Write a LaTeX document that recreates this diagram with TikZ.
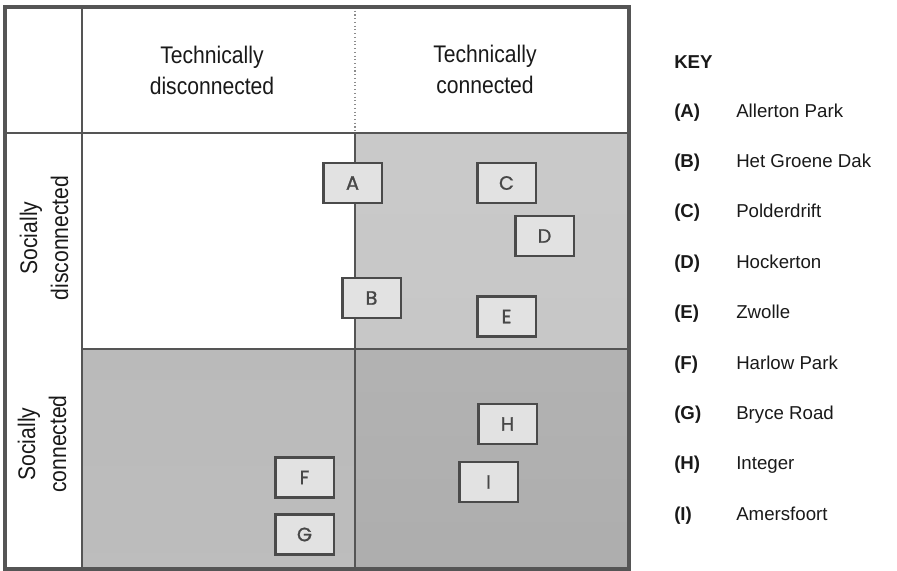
\documentclass[tikz,border=0pt]{standalone}
\usepackage{fontspec}
\setmainfont{Liberation Sans}
\newfontfamily\headfont[FakeStretch=0.88]{Liberation Sans}
\newfontfamily\boxfont[FakeBold=1.2]{Poppins}
\usepackage{tikz}
\usepackage{xcolor}
\definecolor{gridline}{HTML}{555555}
\definecolor{siteedge}{HTML}{4A4A4A}
\definecolor{sitefill}{HTML}{E2E2E2}
\tikzset{
  head/.style={anchor=center, inner sep=0.75pt, align=center, text=black!90,
    font=\headfont\fontsize{18}{23.25}\selectfont},
  site/.style={draw=siteedge, line width=2pt, fill=sitefill, minimum width=44pt,
    minimum height=30pt, inner sep=0pt, text=black!72,
    font=\boxfont\fontsize{14.5}{16}\selectfont},
  keytxt/.style={anchor=base west, inner sep=0.75pt, text=black!90,
    font=\fontsize{14}{16}\selectfont},
  keytag/.style={keytxt, font=\bfseries\fontsize{14}{16}\selectfont}
}

\begin{document}
\begin{tikzpicture}[x=0.75pt,y=0.75pt,yscale=-1,xscale=1]
\useasboundingbox (0,0) rectangle (897,571);

%Shape: Rectangle [quadrant top right]
\fill[top color=black!21, middle color=black!10, bottom color=black!22] (355,133) rectangle (629,349);
%Shape: Rectangle [quadrant bottom left]
\fill[top color=black!27, middle color=black!18, bottom color=black!26] (82,349) rectangle (355,569);
%Shape: Rectangle [quadrant bottom right]
\fill[top color=black!30, middle color=black!25, bottom color=black!32] (355,349) rectangle (629,569);

%Straight Lines [header divider]
\draw [color=black!45, dotted, line width=0.8pt]  (355,7) -- (355,133) ;
%Straight Lines [header bottom]
\draw [color=gridline, line width=1.5pt]  (5,133) -- (629,133) ;
%Straight Lines [label column]
\draw [color=gridline, line width=1.5pt]  (82,7) -- (82,569) ;
%Straight Lines [middle row]
\draw [color=gridline, line width=1.5pt]  (82,349) -- (629,349) ;
%Straight Lines [middle column]
\draw [color=gridline, line width=1.5pt]  (355,133) -- (355,569) ;
%Shape: Rectangle [frame]
\draw [color=gridline, line width=3.2pt]  (5,7) rectangle (629,569) ;

% Text Node
\draw (212,70) node [head] (hdis) {Technically\\disconnected};
% Text Node
\draw (485,69) node [head] (hcon) {Technically\\connected};
% Text Node
\draw (44,238) node [head, rotate=90] (sdis) {Socially\\disconnected};
% Text Node
\draw (42,444) node [head, rotate=90] (scon) {Socially\\connected};

% Site boxes
\draw (352.5,183) node [site] (A) {A};
\draw (371.5,298) node [site] (B) {B};
\draw (506.5,183) node [site] (C) {C};
\draw (544.5,236) node [site] (D) {D};
\draw (506.5,316.5) node [site] (E) {E};
\draw (304.5,477.5) node [site] (F) {F};
\draw (304.5,534.5) node [site] (G) {G};
\draw (507.5,424) node [site] (H) {H};
\draw (488.5,482) node [site] (I) {I};

% Key
\draw (673,68) node [keytag] (key) {KEY};
\foreach \l/\name [count=\k from 0] in {A/Allerton Park, B/Het Groene Dak, C/Polderdrift,
    D/Hockerton, E/Zwolle, F/Harlow Park, G/Bryce Road, H/Integer, I/Amersfoort} {
  \draw (673,117+50.4*\k) node [keytag] (k\l) {(\l)};
  \draw (735,117+50.4*\k) node [keytxt] (n\l) {\name};
}

\end{tikzpicture}
\end{document}
